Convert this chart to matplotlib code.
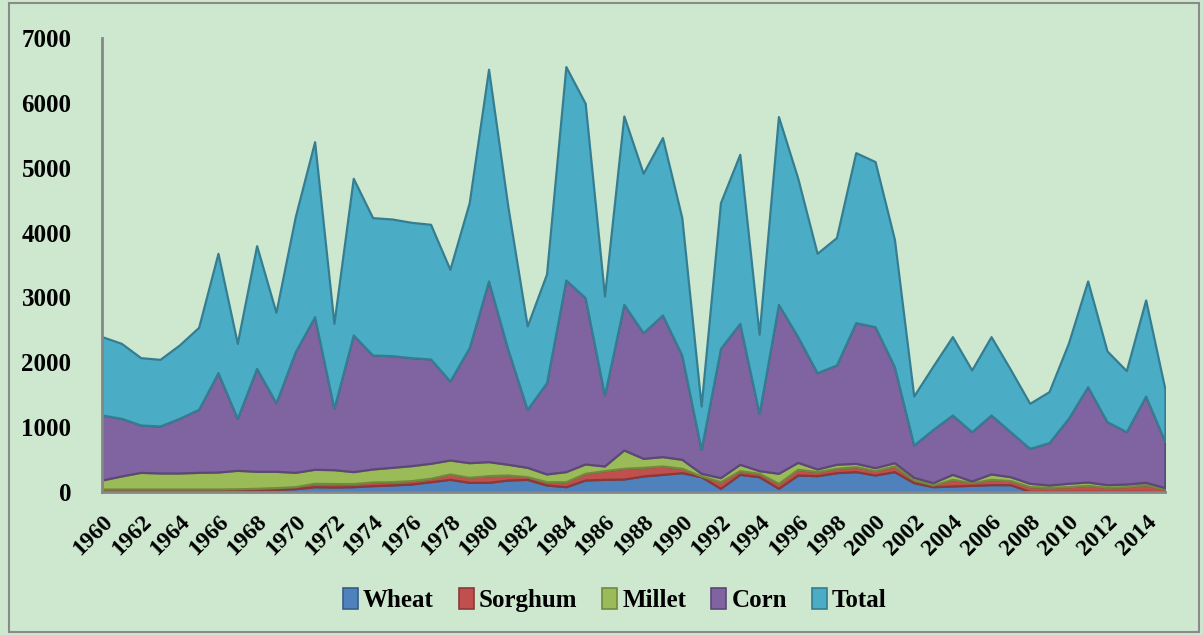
import numpy as np
import matplotlib.pyplot as plt
from matplotlib.patches import Patch, Rectangle

years = np.arange(1960, 2016)

wheat = [15, 15, 15, 15, 15, 15, 15, 21, 31, 41,
         51, 82, 77, 82, 98, 108, 123, 159, 195, 149,
         149, 185, 195, 108, 82, 185, 195, 200, 247, 272,
         298, 236, 57, 272, 236, 57, 262, 252, 298, 314,
         262, 314, 144, 82, 93, 103, 113, 113, 10, 10,
         10, 10, 10, 10, 10, 5]
sorghum = [31, 31, 31, 31, 31, 31, 31, 29, 26, 26,
           31, 52, 53, 48, 56, 51, 52, 52, 83, 77,
           103, 77, 41, 51, 77, 103, 134, 165, 133, 129,
           67, 11, 102, 57, 52, 77, 88, 62, 67, 77,
           67, 87, 41, 26, 102, 41, 82, 62, 72, 62,
           72, 93, 62, 72, 103, 36]
millet = [139, 201, 257, 247, 247, 257, 262, 284, 262, 252,
          221, 216, 214, 184, 201, 221, 231, 231, 215, 226,
          216, 165, 144, 119, 155, 144, 72, 283, 139, 144,
          139, 41, 62, 98, 41, 154, 107, 41, 62, 51,
          46, 51, 41, 36, 77, 26, 83, 61, 52, 36,
          52, 51, 41, 41, 36, 26]
corn = [1002, 889, 730, 725, 843, 972, 1532, 802, 1588, 1058,
        1861, 2353, 946, 2107, 1757, 1722, 1665, 1609, 1219, 1774,
        2786, 1773, 895, 1408, 2955, 2565, 1095, 2246, 1938, 2184,
        1608, 370, 1994, 2174, 884, 2606, 1938, 1485, 1531, 2169,
        2174, 1481, 499, 822, 915, 760, 909, 694, 539, 653,
        1002, 1470, 972, 807, 1331, 709]
total = [1208, 1156, 1038, 1027, 1130, 1264, 1840, 1156, 1891, 1393,
         2081, 2698, 1310, 2415, 2118, 2107, 2087, 2076, 1721, 2235,
         3264, 2200, 1285, 1675, 3290, 2996, 1526, 2904, 2457, 2735,
         2118, 668, 2246, 2606, 1218, 2894, 2442, 1840, 1964, 2621,
         2545, 1963, 755, 977, 1208, 951, 1208, 961, 694, 786,
         1156, 1630, 1089, 941, 1481, 807]

labels = ["Wheat", "Sorghum", "Millet", "Corn", "Total"]
fills = ["#4f81bd", "#c0504d", "#9bbb59", "#8064a2", "#4bacc6"]
edges = ["#385d8a", "#8c3836", "#71893f", "#5c4776", "#357d91"]
bg = "#cde8cf"

plt.rcParams['font.family'] = ['Liberation Serif', 'DejaVu Serif']

fig = plt.figure(figsize=(12.03, 6.35), dpi=100, facecolor=bg)
ax = fig.add_axes([0.0848, 0.2252, 0.8836, 0.7150])
ax.set_facecolor(bg)

polys = ax.stackplot(years, wheat, sorghum, millet, corn, total, colors=fills)
for p, ec in zip(polys, edges):
    p.set_edgecolor(ec)
    p.set_linewidth(1.6)

ax.set_xlim(1960, 2015)
ax.set_ylim(0, 7000)
ax.set_yticks(range(0, 7001, 1000))
ax.set_xticks(years[::2])
ax.set_xticklabels([str(y) for y in years[::2]], rotation=45, ha='right',
                   rotation_mode='anchor', fontsize=17, fontweight='bold')
for t in ax.get_yticklabels():
    t.set_fontsize(18)
    t.set_fontweight('bold')
ax.tick_params(axis='y', length=0, pad=22)
ax.tick_params(axis='x', length=0, pad=14)

for s in ['top', 'right']:
    ax.spines[s].set_visible(False)
for s in ['left', 'bottom']:
    ax.spines[s].set_color('#878787')
    ax.spines[s].set_linewidth(2)

handles = [Patch(facecolor=f, edgecolor=e, linewidth=1.2) for f, e in zip(fills, edges)]
fig.legend(handles, labels, loc='center', bbox_to_anchor=(0.511, 0.055),
           ncol=5, frameon=False, handlelength=0.6, handleheight=0.9,
           handletextpad=0.2, columnspacing=1.0,
           prop={'size': 18, 'weight': 'bold'})

fig.patches.append(Rectangle((9 / 1203, 3 / 635), 1190 / 1203, 629 / 635,
                             transform=fig.transFigure, fill=False,
                             edgecolor='#8a8a8a', linewidth=1.5))

fig.savefig("out.png", dpi=100, facecolor=bg)
